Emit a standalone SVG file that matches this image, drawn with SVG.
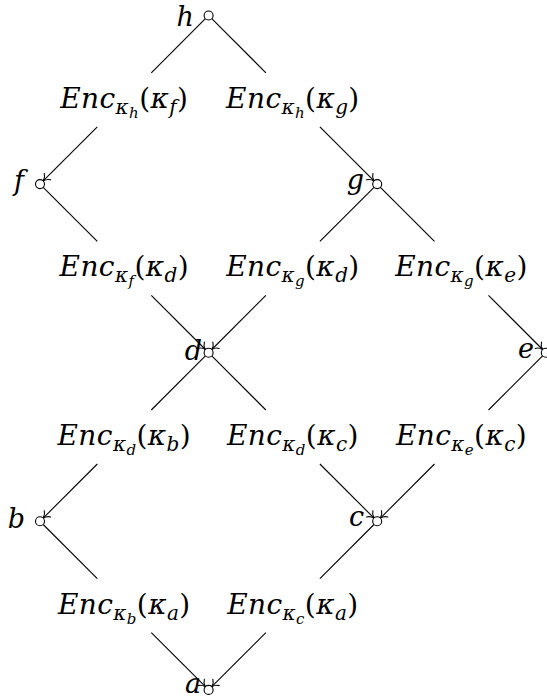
<svg xmlns="http://www.w3.org/2000/svg" width="547" height="700" viewBox="0 0 547 700">
<style>
.m { font-family: "DejaVu Serif", serif; font-style: italic; font-size: 28px; letter-spacing: 0.4px; fill: #000; }
.t { font-family: "DejaVu Serif", serif; font-style: italic; font-size: 27px; fill: #000; }
.r { font-style: normal; }
.s1 { font-size: 20px; }
.s2 { font-size: 15px; }
.e { stroke: #000; stroke-width: 1.1; fill: none; }
.a { marker-end: url(#to); }
.n { stroke: #000; stroke-width: 1.1; fill: #fff; }
</style>
<defs>
<marker id="to" markerUnits="userSpaceOnUse" markerWidth="12" markerHeight="12" refX="0" refY="0" orient="auto" overflow="visible">
<path d="M -6,-4.5 C -4.5,-1.6 -1.4,-0.4 0,0 C -1.4,0.4 -4.5,1.6 -6,4.5" fill="none" stroke="#000" stroke-width="1.1" stroke-linecap="round"/>
</marker>
</defs>
<rect width="547" height="700" fill="#fff"/>
<g id="connectors">
<path class="e" d="M205.4,18.7 L151.3,72.8"/><path class="e a" d="M97.3,126.8 L43.2,180.9"/>
<path class="e" d="M211.8,18.7 L265.9,72.8"/><path class="e a" d="M319.9,126.8 L374,180.9"/>
<path class="e" d="M43.2,187.3 L97.3,241.4"/><path class="e a" d="M151.3,295.4 L205.4,349.5"/>
<path class="e" d="M374,187.3 L319.9,241.4"/><path class="e a" d="M265.9,295.4 L211.8,349.5"/>
<path class="e" d="M380.4,187.3 L434.5,241.4"/><path class="e a" d="M488.5,295.4 L542.6,349.5"/>
<path class="e" d="M205.4,355.9 L151.3,410"/><path class="e a" d="M97.3,464 L43.2,518.1"/>
<path class="e" d="M211.8,355.9 L265.9,410"/><path class="e a" d="M319.9,464 L374,518.1"/>
<path class="e" d="M542.6,355.9 L488.5,410"/><path class="e a" d="M434.5,464 L380.4,518.1"/>
<path class="e" d="M43.2,524.5 L97.3,578.6"/><path class="e a" d="M151.3,632.6 L205.4,686.7"/>
<path class="e" d="M374,524.5 L319.9,578.6"/><path class="e a" d="M265.9,632.6 L211.8,686.7"/>
</g>
<g id="edge-labels">
<text class="m" x="124.3" y="107.8" text-anchor="middle">Enc<tspan class="s1" dy="6">κ</tspan><tspan class="s2" dy="4">h</tspan><tspan class="r" dy="-10">(</tspan>κ<tspan class="s1" dy="6">f</tspan><tspan class="r" dy="-6">)</tspan></text>
<text class="m" x="292.9" y="107.8" text-anchor="middle">Enc<tspan class="s1" dy="6">κ</tspan><tspan class="s2" dy="4">h</tspan><tspan class="r" dy="-10">(</tspan>κ<tspan class="s1" dy="6">g</tspan><tspan class="r" dy="-6">)</tspan></text>
<text class="m" x="124.3" y="276.4" text-anchor="middle">Enc<tspan class="s1" dy="6">κ</tspan><tspan class="s2" dy="4">f</tspan><tspan class="r" dy="-10">(</tspan>κ<tspan class="s1" dy="6">d</tspan><tspan class="r" dy="-6">)</tspan></text>
<text class="m" x="292.9" y="276.4" text-anchor="middle">Enc<tspan class="s1" dy="6">κ</tspan><tspan class="s2" dy="4">g</tspan><tspan class="r" dy="-10">(</tspan>κ<tspan class="s1" dy="6">d</tspan><tspan class="r" dy="-6">)</tspan></text>
<text class="m" x="461.5" y="276.4" text-anchor="middle">Enc<tspan class="s1" dy="6">κ</tspan><tspan class="s2" dy="4">g</tspan><tspan class="r" dy="-10">(</tspan>κ<tspan class="s1" dy="6">e</tspan><tspan class="r" dy="-6">)</tspan></text>
<text class="m" x="124.3" y="445" text-anchor="middle">Enc<tspan class="s1" dy="6">κ</tspan><tspan class="s2" dy="4">d</tspan><tspan class="r" dy="-10">(</tspan>κ<tspan class="s1" dy="6">b</tspan><tspan class="r" dy="-6">)</tspan></text>
<text class="m" x="292.9" y="445" text-anchor="middle">Enc<tspan class="s1" dy="6">κ</tspan><tspan class="s2" dy="4">d</tspan><tspan class="r" dy="-10">(</tspan>κ<tspan class="s1" dy="6">c</tspan><tspan class="r" dy="-6">)</tspan></text>
<text class="m" x="461.5" y="445" text-anchor="middle">Enc<tspan class="s1" dy="6">κ</tspan><tspan class="s2" dy="4">e</tspan><tspan class="r" dy="-10">(</tspan>κ<tspan class="s1" dy="6">c</tspan><tspan class="r" dy="-6">)</tspan></text>
<text class="m" x="124.3" y="613.6" text-anchor="middle">Enc<tspan class="s1" dy="6">κ</tspan><tspan class="s2" dy="4">b</tspan><tspan class="r" dy="-10">(</tspan>κ<tspan class="s1" dy="6">a</tspan><tspan class="r" dy="-6">)</tspan></text>
<text class="m" x="292.9" y="613.6" text-anchor="middle">Enc<tspan class="s1" dy="6">κ</tspan><tspan class="s2" dy="4">c</tspan><tspan class="r" dy="-10">(</tspan>κ<tspan class="s1" dy="6">a</tspan><tspan class="r" dy="-6">)</tspan></text>
</g>
<g id="node-h"><circle class="n" cx="208.6" cy="15.5" r="4.5"/><text class="t" x="194" y="25.5" text-anchor="end">h</text></g>
<g id="node-f"><circle class="n" cx="40" cy="184.1" r="4.5"/><text class="t" x="24" y="190" text-anchor="end">f</text></g>
<g id="node-g"><circle class="n" cx="377.2" cy="184.1" r="4.5"/><text class="t" x="364" y="189" text-anchor="end">g</text></g>
<g id="node-d"><circle class="n" cx="208.6" cy="352.7" r="4.5"/><text class="t" x="202" y="360" text-anchor="end">d</text></g>
<g id="node-e"><circle class="n" cx="545.8" cy="352.7" r="4.5"/><text class="t" x="534" y="358" text-anchor="end">e</text></g>
<g id="node-b"><circle class="n" cx="40" cy="521.3" r="4.5"/><text class="t" x="25" y="528" text-anchor="end">b</text></g>
<g id="node-c"><circle class="n" cx="377.2" cy="521.3" r="4.5"/><text class="t" x="364" y="526" text-anchor="end">c</text></g>
<g id="node-a"><circle class="n" cx="208.6" cy="689.9" r="4.5"/><text class="t" x="201" y="693" text-anchor="end">a</text></g>
</svg>
